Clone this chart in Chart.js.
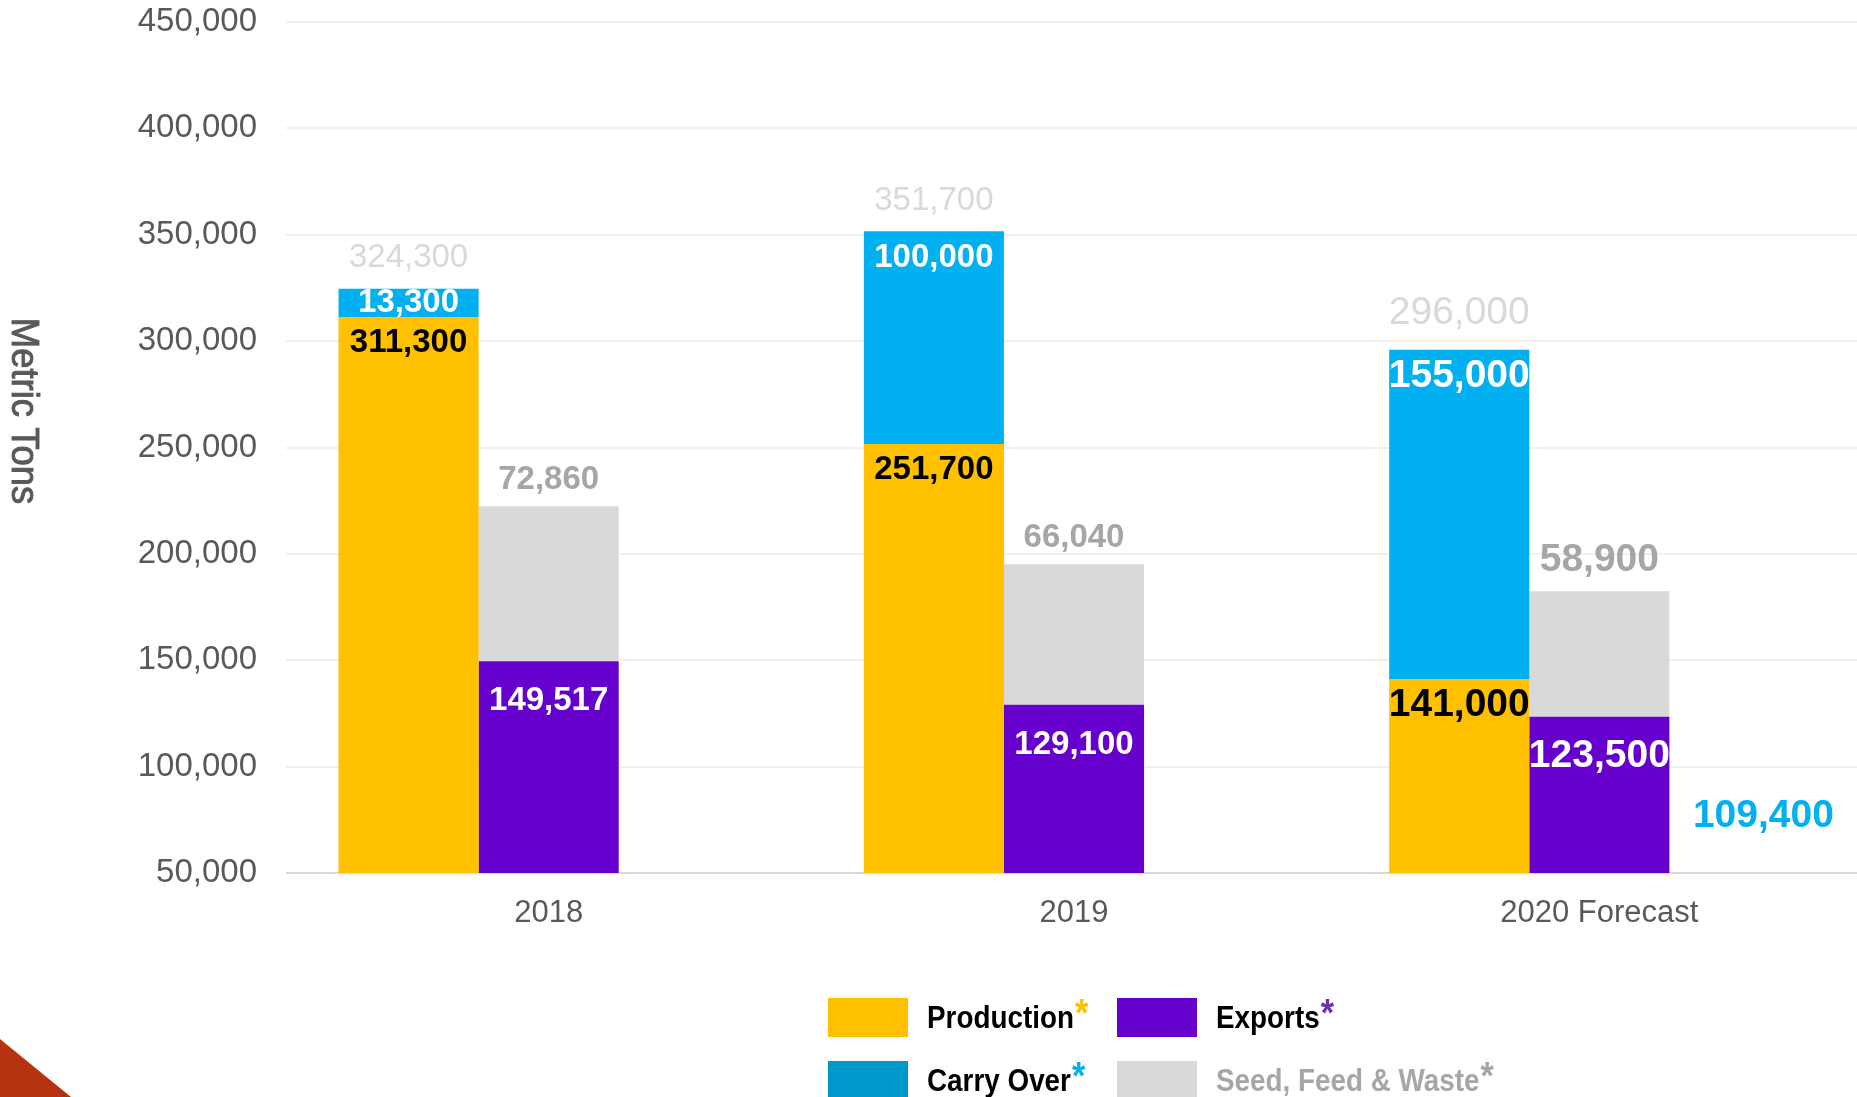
<!DOCTYPE html>
<html>
<head>
<meta charset="utf-8">
<script src="https://cdn.jsdelivr.net/npm/chart.js@4.4.1/dist/chart.umd.min.js"></script>
<style>
  html, body { margin: 0; padding: 0; background: #fff; overflow: hidden; }
  #wrap { position: relative; width: 1862px; height: 1097px; }
  #corner { position: absolute; left: 0; top: 1039px; width: 71px; height: 58px; background: #b5340f; clip-path: polygon(0 0, 100% 100%, 0 100%); }
</style>
</head>
<body>
<div id="wrap"><canvas id="chart"></canvas></div>
<div id="corner"></div>
<script>
// chart values
const years = ["2018", "2019", "2020 Forecast"]
const production = [311300, 251700, 141000]
const carryOver = [13300, 100000, 155000]
const exportsData = [149517, 129100, 123500]
const seedFeedWaste = [72860, 66040, 58900]
const endingCarryOver = [null, null, 109400]
const supplyTotals = [324300, 351700, 296000]
const yTickValues = [50000, 100000, 150000, 200000, 250000, 300000, 350000, 400000, 450000]

const FONT = '"Liberation Sans", Arial, sans-serif'
const labelSizes = [33, 33, 39] // the forecast column uses bigger labels
const fmt = (v) => v.toLocaleString("en-US")

// draws text squeezed horizontally (the reference uses a condensed face)
function squeezedText(ctx, text, x, y, squeeze) {
  ctx.save()
  ctx.translate(x, y)
  ctx.scale(squeeze, 1)
  ctx.fillText(text, 0, 0)
  ctx.restore()
  return ctx.measureText(text).width * squeeze
}

const barLabels = {
  id: "barLabels",
  afterDatasetsDraw(chart) {
    const ctx = chart.ctx
    const bottom = chart.chartArea.bottom
    const bars = (i) => chart.getDatasetMeta(i).data
    ctx.save()
    ctx.textAlign = "center"
    ctx.textBaseline = "middle"
    years.forEach((yr, j) => {
      const size = labelSizes[j]
      const bold = `bold ${size}px ${FONT}`
      const prod = bars(0)[j]
      const carry = bars(1)[j]
      const exp = bars(2)[j]
      const seed = bars(3)[j]
      const end = bars(4)[j]

      ctx.font = bold
      ctx.fillStyle = "#000000"
      ctx.fillText(fmt(production[j]), prod.x, prod.y + 26)

      ctx.fillStyle = "#ffffff"
      ctx.fillText(fmt(carryOver[j]), carry.x, Math.min(carry.y + 27, (carry.y + carry.base) / 2))
      ctx.fillText(fmt(exportsData[j]), exp.x, exp.y + 40)

      ctx.fillStyle = "#a6a6a6"
      ctx.fillText(fmt(seedFeedWaste[j]), seed.x, seed.y - size * 0.8)

      ctx.font = `${size}px ${FONT}`
      ctx.fillStyle = "#d9d9d9"
      ctx.fillText(fmt(supplyTotals[j]), carry.x, carry.y - size * 0.93)

      if (endingCarryOver[j] != null && end) {
        ctx.font = bold
        ctx.fillStyle = "#00b0f0"
        ctx.fillText(fmt(endingCarryOver[j]), end.x + 24, (end.y + Math.min(end.base, bottom)) / 2 + 6)
      }
    })
    ctx.restore()
  },
}

const legendItems = [
  { ds: 0, swatch: "#ffc000", star: "#ffc000", text: "#000000", col: 0, row: 0 },
  { ds: 2, swatch: "#6600cc", star: "#7030a0", text: "#000000", col: 1, row: 0 },
  { ds: 1, swatch: "#0099cc", star: "#00b0f0", text: "#000000", col: 0, row: 1 },
  { ds: 3, swatch: "#d9d9d9", star: "#a6a6a6", text: "#a6a6a6", col: 1, row: 1 },
]
const legendCols = [828, 1117]
const legendRows = [998, 1061]

const extras = {
  id: "extras",
  afterDraw(chart) {
    const ctx = chart.ctx
    ctx.save()
    // custom legend
    ctx.textAlign = "left"
    ctx.textBaseline = "middle"
    legendItems.forEach((it) => {
      const sx = legendCols[it.col]
      const sy = legendRows[it.row]
      ctx.fillStyle = it.swatch
      ctx.fillRect(sx, sy, 80, 39)
      ctx.font = `bold 32px ${FONT}`
      ctx.fillStyle = it.text
      const w = squeezedText(ctx, chart.data.datasets[it.ds].label, sx + 99, sy + 21, 0.87)
      ctx.font = `bold 38px ${FONT}`
      ctx.fillStyle = it.star
      squeezedText(ctx, "*", sx + 99 + w + 1, sy + 18, 0.9)
    })

    // axis title, reads top to bottom
    ctx.fillStyle = "#595959"
    ctx.strokeStyle = "#595959"
    ctx.lineWidth = 0.9
    ctx.font = `38px ${FONT}`
    ctx.textAlign = "center"
    ctx.translate(22, 411)
    ctx.rotate(Math.PI / 2)
    ctx.scale(0.96, 1)
    ctx.fillText("Metric Tons", 0, 0)
    ctx.strokeText("Metric Tons", 0, 0)
    ctx.restore()
  },
}

new Chart(document.getElementById("chart"), {
  type: "bar",
  data: {
    labels: years,
    datasets: [
      { label: "Production", data: production, stack: "supply", backgroundColor: "#ffc000" },
      { label: "Carry Over", data: carryOver, stack: "supply", backgroundColor: "#00b0f0" },
      { label: "Exports", data: exportsData, stack: "use", backgroundColor: "#6600cc" },
      { label: "Seed, Feed & Waste", data: seedFeedWaste, stack: "use", backgroundColor: "#d9d9d9" },
      { label: "Ending Carry Over", data: endingCarryOver, stack: "ending", backgroundColor: "rgba(0,0,0,0)" },
    ],
  },
  options: {
    responsive: true,
    maintainAspectRatio: false,
    animation: false,
    layout: { padding: { top: 22, left: 0, right: 0, bottom: 0 } },
    datasets: { bar: { categoryPercentage: 0.8, barPercentage: 1, borderWidth: 0 } },
    plugins: { legend: { display: false }, tooltip: { enabled: false } },
    scales: {
      x: {
        stacked: true,
        grid: { display: false, drawTicks: false },
        border: { display: false },
        ticks: { color: "#595959", font: { family: FONT, size: 31 }, padding: 22, maxRotation: 0 },
        afterFit(scale) {
          scale.height = 224
          scale.paddingLeft = 0
          scale.paddingRight = 0
        },
      },
      y: {
        stacked: true,
        min: 50000,
        max: 450000,
        afterBuildTicks(scale) {
          scale.ticks = yTickValues.map((v) => ({ value: v }))
        },
        grid: {
          drawTicks: false,
          lineWidth: 2,
          color: (c) => (c.tick && c.tick.value === 50000 ? "#d9d9d9" : "#f0f0f0"),
        },
        border: { display: false },
        ticks: { color: "#595959", font: { family: FONT, size: 33 }, padding: 29, callback: (v) => fmt(v) },
        afterFit(scale) {
          scale.width = 286
          scale.paddingTop = 0
          scale.paddingBottom = 0
        },
      },
    },
  },
  plugins: [barLabels, extras],
})
</script>
</body>
</html>
